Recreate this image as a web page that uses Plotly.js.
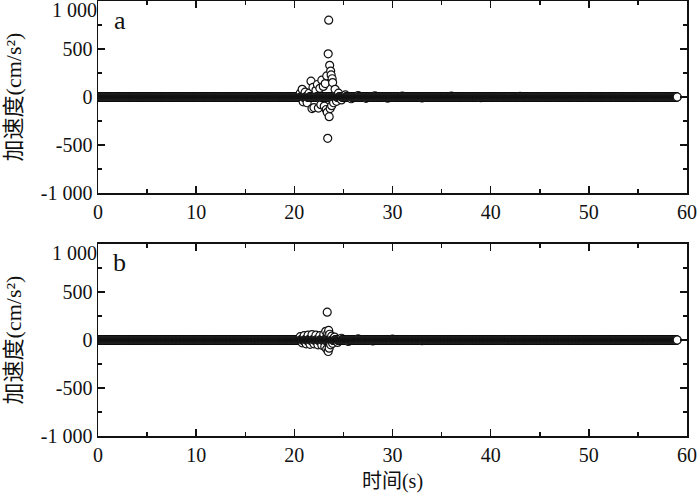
<!DOCTYPE html>
<html>
<head>
<meta charset="utf-8">
<script src="https://cdn.plot.ly/plotly-3.0.1.min.js"></script>
<style>html,body{margin:0;padding:0;background:#fff;}#chart{width:700px;height:494px;}</style>
</head>
<body>
<div id="chart"></div>
<script>
// ---- data ----
// quiet part of each record: sampled every 0.02 s from 0 to 59 s, acceleration ≈ 0
const recordStart = 0;
const recordEnd = 59;
const sampleInterval = 0.02;
const quietValue = 0;

// panel a: strong-motion samples (s, cm/s²)
const tA = [20.6,20.8,20.9,21.1,21.3,21.5,21.7,21.8,21.9,22.0,22.2,22.35,22.45,22.6,22.7,22.8,22.95,23.05,23.15,23.25,23.3,23.35,23.4,23.45,23.5,23.55,23.6,23.65,23.7,23.75,23.8,23.85,23.9,24.0,24.15,24.3,24.5,24.8,25.2,25.8,26.5,27.3,28.2,29.5,31,33,36,39,43];
const aA = [40,80,-50,50,-60,40,165,-120,100,-110,70,130,-115,90,-80,175,110,-95,140,-130,220,-160,-430,450,800,-205,330,-120,270,230,-90,190,150,-60,80,-45,40,-30,22,-18,15,-14,12,-12,10,-10,10,-8,8];

// panel b: strong-motion samples (s, cm/s²)
const tB = [20.6,20.8,21.0,21.2,21.4,21.6,21.8,22.0,22.2,22.4,22.6,22.8,23.0,23.1,23.2,23.3,23.35,23.4,23.45,23.5,23.55,23.6,23.7,23.8,23.9,24.1,24.4,24.8,25.5,26.5,28,30,33];
const aB = [35,-30,45,-40,50,-45,55,-40,50,-50,45,-55,60,-70,90,-95,290,70,-120,100,-85,60,-50,40,-35,30,-25,18,-15,12,-10,10,-8];

const xTickVals = [0,10,20,30,40,50,60];
const xTickText = ['0','10','20','30','40','50','60'];
const yTickVals = [-1000,-500,0,500];
const yTickText = ['-1 000','-500','0','500'];
const yTopVal = [1000];
const yTopText = ['1 000'];
const panelLabels = ['a','b'];
const xTitle = '时间(s)';
const yTitle = '加速度(cm/s²)';

// ---- build series ----
function buildSeries(evT, evA){
  const pts = [];
  const n = Math.round((recordEnd - recordStart)/sampleInterval);
  for(let i=0;i<=n;i++){ pts.push([recordStart + i*sampleInterval, quietValue]); }
  for(let i=0;i<evT.length;i++){ pts.push([evT[i], evA[i]]); }
  pts.sort((p,q)=>p[0]-q[0]);
  return {x: pts.map(p=>p[0]), y: pts.map(p=>p[1])};
}
const sA = buildSeries(tA, aA);
const sB = buildSeries(tB, aB);

const serif = '"Liberation Serif", "Times New Roman", "Noto Sans CJK SC", serif';
const ink = '#111111';
const marker = {symbol:'circle', size:8, color:'#ffffff', line:{color:ink, width:1.2}};

const traces = [
  {x:sA.x, y:sA.y, xaxis:'x', yaxis:'y', mode:'markers', type:'scatter', marker:marker, hoverinfo:'skip'},
  {x:sB.x, y:sB.y, xaxis:'x2', yaxis:'y2', mode:'markers', type:'scatter', marker:marker, hoverinfo:'skip'},
  // carriers for the shifted top tick label of each panel (no marks)
  {x:[null], y:[null], xaxis:'x', yaxis:'y3', mode:'markers', type:'scatter', hoverinfo:'skip'},
  {x:[null], y:[null], xaxis:'x2', yaxis:'y4', mode:'markers', type:'scatter', hoverinfo:'skip'}
];

function xAxis(anchor, withTitle){
  const ax = {
    anchor:anchor, domain:[0,1], range:[0,60], tickmode:'array', tickvals:xTickVals, ticktext:xTickText,
    ticks:'inside', ticklen:7, tickwidth:1.5, tickcolor:ink,
    minor:{ticks:'inside', ticklen:4, tickwidth:1.5, tickcolor:ink, dtick:5, tick0:0, showgrid:false},
    showline:true, linewidth:1.5, linecolor:ink, mirror:'ticks',
    showgrid:false, zeroline:false, tickfont:{family:serif, size:20, color:ink}
  };
  if(withTitle){ ax.title = {text:xTitle, font:{family:serif, size:20, color:ink}, standoff:9}; }
  return ax;
}
function yAxis(anchor, domain){
  return {
    anchor:anchor, domain:domain, range:[-1000,1000], tickmode:'array', tickvals:yTickVals.concat(yTopVal), ticktext:yTickText.concat(['']),
    ticks:'inside', ticklen:7, tickwidth:1.5, tickcolor:ink,
    minor:{ticks:'inside', ticklen:4, tickwidth:1.5, tickcolor:ink, dtick:250, tick0:0, showgrid:false},
    showline:true, linewidth:1.5, linecolor:ink, mirror:'ticks',
    showgrid:false, zeroline:false, tickfont:{family:serif, size:20, color:ink},
    title:{text:yTitle, font:{family:serif, size:22, color:ink}, standoff:13}
  };
}
function yTopAxis(overlay, xa){
  return {
    overlaying:overlay, anchor:xa, side:'left', range:[-1000,1000], tickmode:'array', tickvals:yTopVal, ticktext:yTopText,
    ticks:'', showline:false, showgrid:false, zeroline:false, ticklabelshift:9, ticklabeloverflow:'allow',
    tickfont:{family:serif, size:20, color:ink}
  };
}

const layout = {
  width:700, height:494,
  margin:{l:98, r:13, t:1, b:58},
  paper_bgcolor:'#ffffff', plot_bgcolor:'#ffffff',
  showlegend:false,
  xaxis:xAxis('y', false),
  yaxis:yAxis('x', [0.5586,1]),
  xaxis2:xAxis('y2', true),
  yaxis2:yAxis('x2', [0,0.4414]),
  yaxis3:yTopAxis('y','x'),
  yaxis4:yTopAxis('y2','x2'),
  annotations:[
    {text:panelLabels[0], xref:'paper', yref:'paper', x:0.037, y:0.955, xanchor:'center', yanchor:'middle', showarrow:false, font:{family:serif, size:26, color:ink}},
    {text:panelLabels[1], xref:'paper', yref:'paper', x:0.037, y:0.398, xanchor:'center', yanchor:'middle', showarrow:false, font:{family:serif, size:26, color:ink}}
  ]
};

Plotly.newPlot('chart', traces, layout, {staticPlot:true, displayModeBar:false});
</script>
</body>
</html>
